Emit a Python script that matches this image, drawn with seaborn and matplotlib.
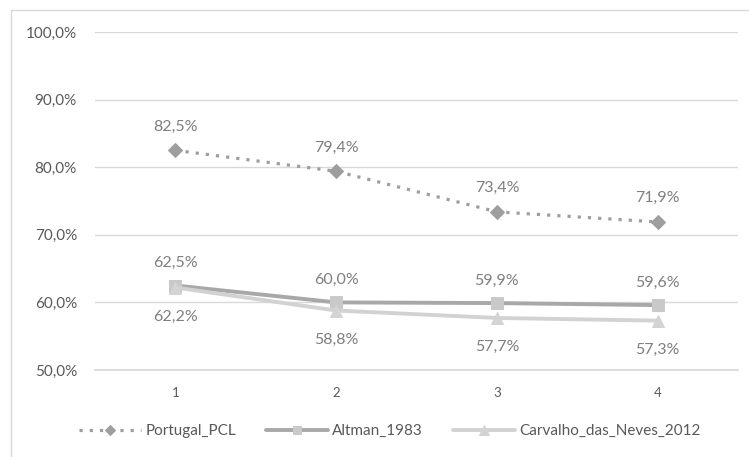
import matplotlib
matplotlib.use("Agg")
import matplotlib.pyplot as plt
import seaborn as sns
import pandas as pd
from matplotlib.patches import Rectangle

periods = [1, 2, 3, 4]
portugal_pcl = [82.5, 79.4, 73.4, 71.9]
altman_1983 = [62.5, 60.0, 59.9, 59.6]
carvalho_2012 = [62.2, 58.8, 57.7, 57.3]
series_names = ["Portugal_PCL", "Altman_1983", "Carvalho_das_Neves_2012"]
y_ticks = [50, 60, 70, 80, 90, 100]

sns.set_theme(style="white")
plt.rcParams['font.family'] = ['Lato', 'DejaVu Sans']

fig = plt.figure(figsize=(7.49, 4.57), dpi=100)
W, H = 749, 457
ax = fig.add_axes([95 / W, 1 - 370 / H, (738 - 95) / W, (370 - 32) / H])

# outer chart border (partially cut off like the reference)
fig.patches.append(Rectangle((11 / W, -0.05), 1.2, 1 - 10 / H + 0.05,
                             transform=fig.transFigure, fill=False,
                             edgecolor="#D9D9D9", linewidth=1.0))

styles = {
    "Portugal_PCL": dict(color="#9E9E9E", linestyle=(0, (1, 2.2)), linewidth=2.3,
                         marker="D", markersize=7, mfc="#9E9E9E", mec="#9E9E9E"),
    "Altman_1983": dict(color="#A8A8A8", linestyle="-", linewidth=2.8,
                        marker="s", markersize=8, mfc="#C9C9C9", mec="#C9C9C9"),
    "Carvalho_das_Neves_2012": dict(color="#D2D2D2", linestyle="-", linewidth=2.8,
                                    marker="^", markersize=9, mfc="#D4D4D4", mec="#D4D4D4"),
}
data = {"Portugal_PCL": portugal_pcl, "Altman_1983": altman_1983,
        "Carvalho_das_Neves_2012": carvalho_2012}
offsets = {"Portugal_PCL": 12, "Altman_1983": 11, "Carvalho_das_Neves_2012": -26}

for name in series_names:
    df = pd.DataFrame({"x": periods, "y": data[name]})
    st = styles[name]
    sns.lineplot(data=df, x="x", y="y", ax=ax, color=st["color"],
                 linestyle=st["linestyle"], linewidth=st["linewidth"],
                 marker=st["marker"], markersize=st["markersize"],
                 markerfacecolor=st["mfc"], markeredgecolor=st["mec"],
                 label=name, zorder=3)
    for x, y in zip(periods, data[name]):
        ax.annotate(f"{y:.1f}%".replace(".", ","), (x, y), xytext=(0, offsets[name]),
                    textcoords="offset points", ha="center", va="bottom",
                    fontsize=11.5, color="#7F7F7F")

ax.set_xlim(0.5, 4.5)
ax.set_ylim(50, 100)
ax.set_yticks(y_ticks)
ax.set_yticklabels([f"{v:.1f}%".replace(".", ",") for v in y_ticks])
ax.set_xticks(periods)
ax.set_xticklabels([str(p) for p in periods])
ax.tick_params(axis="y", length=0, pad=13, labelsize=11, labelcolor="#595959")
ax.tick_params(axis="x", length=0, pad=12, labelsize=9.5, labelcolor="#595959")
ax.grid(axis="y", color="#D9D9D9", linewidth=1)
ax.set_xlabel("")
ax.set_ylabel("")
for s in ["top", "right", "left"]:
    ax.spines[s].set_visible(False)
ax.spines["bottom"].set_color("#D9D9D9")
ax.set_axisbelow(True)

ax.get_legend().remove()
handles, labels = ax.get_legend_handles_labels()
fig.legend(handles, labels, loc="center", bbox_to_anchor=(390 / W, 1 - 431 / H),
           ncol=3, frameon=False, fontsize=11, labelcolor="#595959",
           handlelength=4.0, columnspacing=2.0, handletextpad=0.3, markerscale=0.75)

fig.savefig("out.png", dpi=100)
